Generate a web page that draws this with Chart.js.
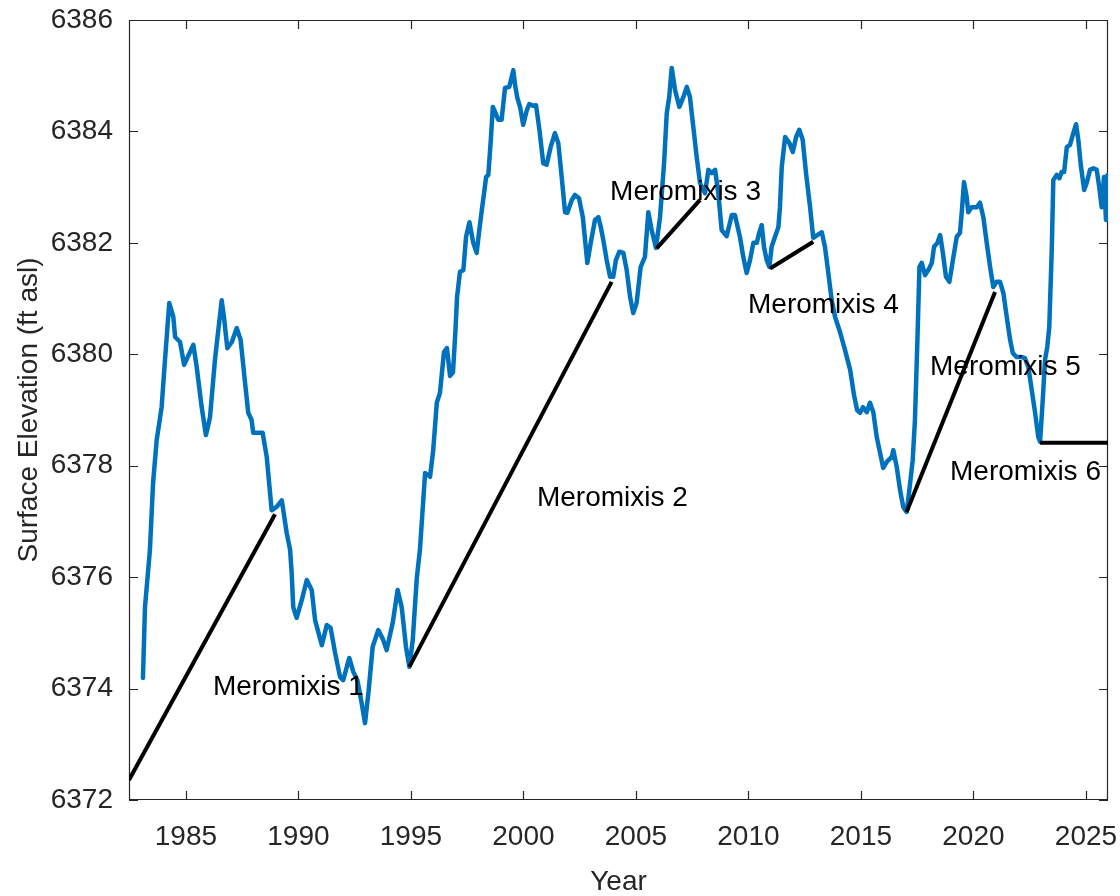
<!DOCTYPE html>
<html>
<head>
<meta charset="utf-8">
<script src="https://cdn.jsdelivr.net/npm/chart.js@4.4.1/dist/chart.umd.min.js"></script>
<style>
  html, body { margin: 0; padding: 0; background: #ffffff; }
  canvas { display: block; }
</style>
</head>
<body>
<canvas id="c" width="1120" height="896" style="width:1120px;height:896px"></canvas>
<script>
// ---------------- data ----------------
const years = [1983.09,1983.18,1983.40,1983.54,1983.70,1983.92,1984.07,1984.26,1984.44,1984.52,1984.74,1984.92,1985.33,1985.48,1985.70,1985.89,1986.07,1986.29,1986.59,1986.69,1986.84,1987.04,1987.26,1987.43,1987.63,1987.77,1987.92,1987.99,1988.41,1988.59,1988.81,1989.03,1989.26,1989.48,1989.63,1989.70,1989.77,1989.92,1990.15,1990.37,1990.59,1990.74,1991.04,1991.26,1991.43,1991.63,1991.85,1991.99,1992.26,1992.44,1992.62,1992.81,1992.96,1993.11,1993.30,1993.55,1993.77,1993.92,1994.19,1994.41,1994.59,1994.78,1994.93,1995.08,1995.26,1995.40,1995.63,1995.85,1995.99,1996.15,1996.29,1996.47,1996.60,1996.74,1996.87,1996.98,1997.05,1997.18,1997.33,1997.45,1997.60,1997.77,1997.92,1998.04,1998.15,1998.25,1998.34,1998.44,1998.55,1998.64,1998.74,1998.88,1999.03,1999.18,1999.37,1999.48,1999.55,1999.63,1999.73,1999.85,1999.99,2000.15,2000.26,2000.44,2000.56,2000.71,2000.88,2001.03,2001.21,2001.40,2001.55,2001.70,2001.85,2001.95,2002.15,2002.29,2002.47,2002.64,2002.84,2002.99,2003.18,2003.33,2003.44,2003.55,2003.70,2003.85,2003.99,2004.11,2004.26,2004.44,2004.59,2004.74,2004.88,2005.03,2005.21,2005.40,2005.55,2005.70,2005.89,2006.07,2006.25,2006.37,2006.48,2006.59,2006.74,2006.93,2007.11,2007.26,2007.40,2007.55,2007.70,2007.85,2008.07,2008.22,2008.37,2008.52,2008.66,2008.81,2009.03,2009.26,2009.40,2009.63,2009.77,2009.92,2010.07,2010.22,2010.37,2010.48,2010.59,2010.69,2010.81,2010.93,2011.03,2011.18,2011.33,2011.40,2011.48,2011.63,2011.82,2011.97,2012.12,2012.26,2012.41,2012.56,2012.74,2012.88,2013.06,2013.26,2013.40,2013.55,2013.70,2013.85,2014.07,2014.29,2014.52,2014.69,2014.83,2014.96,2015.09,2015.26,2015.40,2015.55,2015.70,2015.85,2015.99,2016.15,2016.37,2016.44,2016.59,2016.74,2016.88,2017.03,2017.15,2017.30,2017.40,2017.51,2017.60,2017.70,2017.85,2017.99,2018.15,2018.25,2018.40,2018.52,2018.64,2018.78,2018.93,2019.11,2019.26,2019.40,2019.48,2019.58,2019.70,2019.77,2019.92,2020.15,2020.29,2020.44,2020.59,2020.74,2020.88,2021.03,2021.18,2021.33,2021.48,2021.63,2021.75,2021.92,2022.15,2022.29,2022.44,2022.59,2022.74,2022.88,2022.96,2023.08,2023.18,2023.28,2023.37,2023.48,2023.55,2023.70,2023.82,2023.92,2024.03,2024.15,2024.29,2024.44,2024.56,2024.66,2024.77,2024.92,2025.03,2025.18,2025.33,2025.48,2025.59,2025.70,2025.80,2025.89,2025.96];

const elevation = [6374.19,6375.46,6376.49,6377.69,6378.46,6379.05,6379.90,6380.92,6380.67,6380.31,6380.22,6379.81,6380.17,6379.77,6379.05,6378.55,6378.87,6379.90,6380.97,6380.67,6380.11,6380.22,6380.47,6380.26,6379.48,6378.95,6378.82,6378.59,6378.59,6378.16,6377.20,6377.26,6377.38,6376.79,6376.49,6376.07,6375.46,6375.27,6375.59,6375.95,6375.77,6375.23,6374.78,6375.14,6375.09,6374.64,6374.21,6374.15,6374.55,6374.30,6374.15,6373.74,6373.38,6373.92,6374.75,6375.05,6374.87,6374.69,6375.18,6375.77,6375.46,6374.75,6374.39,6374.87,6375.98,6376.49,6377.87,6377.80,6378.28,6379.13,6379.31,6380.04,6380.11,6379.61,6379.68,6380.44,6381.03,6381.48,6381.51,6382.11,6382.37,6382.00,6381.82,6382.23,6382.59,6382.89,6383.18,6383.22,6383.85,6384.44,6384.35,6384.21,6384.21,6384.78,6384.80,6384.98,6385.10,6384.83,6384.60,6384.44,6384.12,6384.38,6384.49,6384.46,6384.47,6384.03,6383.43,6383.40,6383.72,6383.97,6383.79,6383.18,6382.55,6382.54,6382.77,6382.86,6382.80,6382.46,6381.64,6382.00,6382.41,6382.46,6382.28,6382.05,6381.69,6381.39,6381.39,6381.69,6381.84,6381.82,6381.51,6381.03,6380.74,6380.92,6381.57,6381.75,6382.55,6382.23,6381.91,6382.46,6383.43,6384.33,6384.62,6385.14,6384.74,6384.44,6384.62,6384.80,6384.62,6384.08,6383.54,6383.07,6382.89,6383.31,6383.25,6383.31,6382.89,6382.23,6382.12,6382.50,6382.50,6382.09,6381.75,6381.46,6381.69,6382.00,6382.00,6382.18,6382.32,6381.93,6381.69,6381.57,6381.93,6382.11,6382.28,6382.64,6383.36,6383.90,6383.79,6383.63,6383.90,6384.03,6383.85,6383.25,6382.64,6382.09,6382.14,6382.19,6381.93,6381.46,6380.97,6380.67,6380.40,6380.08,6379.72,6379.27,6379.00,6378.95,6379.05,6378.96,6379.13,6378.96,6378.52,6378.23,6377.96,6378.07,6378.16,6378.28,6377.98,6377.56,6377.26,6377.17,6377.56,6378.10,6378.82,6380.26,6381.57,6381.64,6381.42,6381.51,6381.64,6381.93,6382.00,6382.14,6381.82,6381.39,6381.30,6381.75,6382.11,6382.18,6382.54,6383.09,6382.82,6382.55,6382.64,6382.64,6382.72,6382.46,6382.00,6381.57,6381.21,6381.30,6381.30,6381.10,6380.67,6380.26,6380.02,6379.95,6379.95,6379.93,6379.77,6379.36,6378.95,6378.52,6378.43,6379.18,6379.90,6380.13,6380.49,6381.87,6383.13,6383.22,6383.16,6383.27,6383.27,6383.72,6383.76,6383.97,6384.13,6383.85,6383.40,6382.95,6383.07,6383.31,6383.34,6383.31,6383.00,6382.64,6383.18,6382.41,6383.22];

// Meromixis trend segments (start / end)
const merLabels     = ["Meromixis 1","Meromixis 2","Meromixis 3","Meromixis 4","Meromixis 5","Meromixis 6"];
const merStartYear  = [1982.47, 1994.93, 2005.92, 2010.96, 2017.03, 2022.96];
const merStartElev  = [6372.36, 6374.39, 6381.90, 6381.54, 6377.17, 6378.41];
const merEndYear    = [1988.96, 2003.92, 2007.85, 2012.88, 2020.96, 2026.00];
const merEndElev    = [6377.13, 6381.30, 6382.77, 6382.02, 6381.12, 6378.41];
// label anchors (left edge, vertical middle) in data units
const merLabelYear  = [1986.20, 2000.60, 2003.85, 2009.98, 2018.07, 2018.96];
const merLabelElev  = [6374.03, 6377.42, 6382.91, 6380.88, 6379.77, 6377.89];

const xTickValues = [1985, 1990, 1995, 2000, 2005, 2010, 2015, 2020, 2025];
const yTickValues = [6372, 6374, 6376, 6378, 6380, 6382, 6384, 6386];
const X_MIN = 1982.47, X_MAX = 2025.98;
const Y_MIN = 6372, Y_MAX = 6386;

// ---------------- styling ----------------
const FONT = "'Liberation Sans', Arial, Helvetica, sans-serif";
const AXIS_COLOR = '#262626';
const BLUE = '#0072BD';
const TICK_LEN = 9;

const datasets = [];
merLabels.forEach((lab, i) => {
  datasets.push({
    label: lab,
    data: [{x: merStartYear[i], y: merStartElev[i]}, {x: merEndYear[i], y: merEndElev[i]}],
    borderColor: '#000000',
    borderWidth: 4,
    pointRadius: 0,
    tension: 0,
    order: 0
  });
});
datasets.push({
  label: 'Surface elevation',
  data: years.map((yr, i) => ({x: yr, y: elevation[i]})),
  borderColor: BLUE,
  borderWidth: 4.5,
  pointRadius: 0,
  tension: 0,
  borderJoinStyle: 'round',
  borderCapStyle: 'round',
  order: 1
});

const boxPlugin = {
  id: 'boxTicks',
  beforeDatasetsDraw(chart) {
    const {ctx, chartArea: a, scales: {x, y}} = chart;
    ctx.save();
    ctx.strokeStyle = AXIS_COLOR;
    ctx.lineWidth = 1.2;
    ctx.beginPath();
    ctx.rect(a.left + 0.5, a.top + 0.5, a.right - a.left - 1, a.bottom - a.top - 1);
    x.ticks.forEach(t => {
      const px = Math.round(x.getPixelForValue(t.value)) + 0.5;
      ctx.moveTo(px, a.bottom); ctx.lineTo(px, a.bottom - TICK_LEN);
      ctx.moveTo(px, a.top); ctx.lineTo(px, a.top + TICK_LEN);
    });
    y.ticks.forEach(t => {
      const py = Math.round(y.getPixelForValue(t.value)) + 0.5;
      ctx.moveTo(a.left, py); ctx.lineTo(a.left + TICK_LEN, py);
      ctx.moveTo(a.right, py); ctx.lineTo(a.right - TICK_LEN, py);
    });
    ctx.stroke();
    ctx.restore();
  }
};

const labelPlugin = {
  id: 'merLabels',
  afterDatasetsDraw(chart) {
    const {ctx, scales: {x, y}} = chart;
    ctx.save();
    ctx.fillStyle = '#000000';
    ctx.font = "28px " + FONT;
    ctx.textAlign = 'left';
    ctx.textBaseline = 'middle';
    merLabels.forEach((lab, i) => {
      ctx.fillText(lab, x.getPixelForValue(merLabelYear[i]), y.getPixelForValue(merLabelElev[i]));
    });
    ctx.restore();
  }
};

new Chart(document.getElementById('c'), {
  type: 'line',
  data: { datasets },
  options: {
    responsive: false,
    animation: false,
    devicePixelRatio: 1,
    layout: { padding: { top: 20, right: 12, left: 0, bottom: 0 } },
    plugins: { legend: { display: false }, tooltip: { enabled: false } },
    scales: {
      x: {
        type: 'linear',
        min: X_MIN, max: X_MAX,
        afterBuildTicks: s => { s.ticks = xTickValues.map(v => ({ value: v })); },
        afterFit: s => { s.height = 96; s.paddingLeft = 0; s.paddingRight = 0; },
        grid: { display: false, drawTicks: false },
        border: { display: false },
        ticks: {
          color: AXIS_COLOR, padding: 20, maxRotation: 0, autoSkip: false,
          font: { family: FONT, size: 28 },
          callback: v => String(v)
        },
        title: {
          display: true, text: 'Year', color: AXIS_COLOR,
          font: { family: FONT, size: 28, lineHeight: 1 },
          padding: { top: 0, bottom: 0 }
        }
      },
      y: {
        type: 'linear',
        min: Y_MIN, max: Y_MAX,
        afterBuildTicks: s => { s.ticks = yTickValues.map(v => ({ value: v })); },
        afterFit: s => { s.width = 129; s.paddingTop = 0; s.paddingBottom = 0; },
        grid: { display: false, drawTicks: false },
        border: { display: false },
        ticks: {
          color: AXIS_COLOR, padding: 16, autoSkip: false,
          font: { family: FONT, size: 28 },
          callback: v => String(v)
        },
        title: {
          display: true, text: 'Surface Elevation (ft asl)', color: AXIS_COLOR,
          font: { family: FONT, size: 28, lineHeight: 1 },
          padding: { top: 15, bottom: 0 }
        }
      }
    }
  },
  plugins: [boxPlugin, labelPlugin]
});
</script>
</body>
</html>
